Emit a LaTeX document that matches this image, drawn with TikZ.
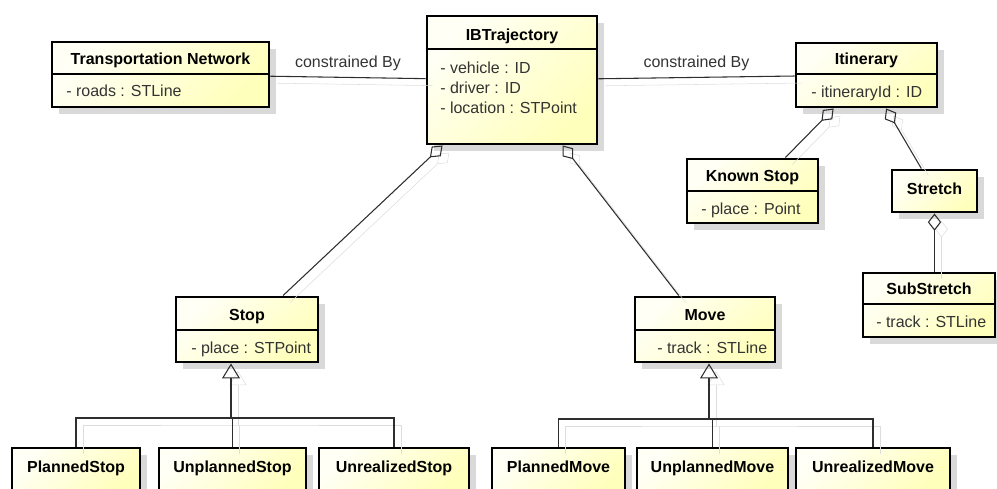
\documentclass[tikz,border=0pt]{standalone}
\usepackage{fontspec}
\setmainfont{Liberation Sans}
\usetikzlibrary{arrows.meta,shadows,fit}
\definecolor{clsyellow}{HTML}{FFFFBC}
\definecolor{clswhite}{HTML}{FFFFF6}
\definecolor{boxshadow}{HTML}{D9D9D9}
\definecolor{lineshadow}{HTML}{DDDDDD}
\definecolor{linegray}{HTML}{2E2E2E}
\definecolor{textgray}{HTML}{333333}
\newcommand\umlfont{\fontsize{12pt}{14pt}\selectfont}
\tikzset{
  cls/.style={draw=black, line width=2.2pt, inner sep=0pt,
    top color=clswhite, bottom color=clsyellow, shading angle=45,
    drop shadow={shadow xshift=5.25pt, shadow yshift=-5.25pt, fill=boxshadow, opacity=1}},
  ttl/.style={font=\umlfont\bfseries, text=black, inner sep=0pt, text height=8.6pt, text depth=0pt},
  att/.style={font=\umlfont, text=textgray, anchor=west, inner sep=0pt, text height=8.6pt, text depth=0pt},
  lbl/.style={font=\umlfont, text=textgray, inner sep=0pt, text height=8.6pt, text depth=0pt},
  divider/.style={draw=black, line width=0.8pt},
  conn/.style={draw=linegray, line width=0.8pt,
    preaction={draw=lineshadow, transform canvas={shift={(7,7)}}}},
  agg/.style={{Diamond[open, length=13pt, width=10pt]}-},
  gen/.style={-{Triangle[open, length=11.25pt, width=13.5pt]}}
}
\begin{document}
\begin{tikzpicture}[x=0.75pt, y=-0.75pt, font=\umlfont]
\useasboundingbox (0,0) rectangle (997,489);

% classes of the top row
\node[cls, fit={(52,42) (269,107)}] (tn) {};
\node[ttl] (tn-t) at (tn.center |- 0,59) {Transportation Network};
\draw[divider] (tn.west |- 0,74) -- (tn.east |- 0,74);
\node[att] (tn-a) at (66,91) {- roads : STLine};

\node[cls, fit={(427,16) (597,144)}] (ibt) {};
\node[ttl] (ibt-t) at (ibt.center |- 0,35) {IBTrajectory};
\draw[divider] (ibt.west |- 0,49) -- (ibt.east |- 0,49);
\node[att] (ibt-a1) at (440,68) {- vehicle : ID};
\node[att] (ibt-a2) at (440,88) {- driver : ID};
\node[att] (ibt-a3) at (440,108) {- location : STPoint};

\node[cls, fit={(796,43) (937,107)}] (itin) {};
\node[ttl] (itin-t) at (itin.center |- 0,59) {Itinerary};
\draw[divider] (itin.west |- 0,74) -- (itin.east |- 0,74);
\node[att] (itin-a) at (811,92) {- itineraryId : ID};

% parts of the itinerary
\node[cls, fit={(687,159) (818,223)}] (ks) {};
\node[ttl] (ks-t) at (ks.center |- 0,176) {Known Stop};
\draw[divider] (ks.west |- 0,191) -- (ks.east |- 0,191);
\node[att] (ks-a) at (701,209) {- place : Point};

\node[cls, fit={(892,170) (977,212)}] (str) {};
\node[ttl] (str-t) at (str.center |- 0,189) {Stretch};

\node[cls, fit={(863,273) (995,337)}] (sub) {};
\node[ttl] (sub-t) at (sub.center |- 0,289) {SubStretch};
\draw[divider] (sub.west |- 0,304) -- (sub.east |- 0,304);
\node[att] (sub-a) at (876,322) {- track : STLine};

% stop and move
\node[cls, fit={(176,297) (318,362)}] (stop) {};
\node[ttl] (stop-t) at (stop.center |- 0,315) {Stop};
\draw[divider] (stop.west |- 0,330) -- (stop.east |- 0,330);
\node[att] (stop-a) at (191,348) {- place : STPoint};

\node[cls, fit={(635,297) (775,362)}] (move) {};
\node[ttl] (move-t) at (move.center |- 0,315) {Move};
\draw[divider] (move.west |- 0,330) -- (move.east |- 0,330);
\node[att] (move-a) at (657,348) {- track : STLine};

% subclasses
\foreach \n/\t/\a/\b in {ps/PlannedStop/12/140, ups/UnplannedStop/159/306, rs/UnrealizedStop/319/469,
    pm/PlannedMove/492/625, upm/UnplannedMove/637/788, rm/UnrealizedMove/796/950}{
  \node[cls, fit={(\a,448) (\b,492)}] (\n) {};
  \node[ttl] (\n-t) at ({(\a+\b)/2},467) {\t};
}

% associations
\draw[conn] (tn) -- node[lbl, above=7pt] (cb1) {constrained By} (ibt);
\draw[conn] (ibt) -- node[lbl, above=7pt] (cb2) {constrained By} (itin);

% aggregations
\draw[conn, agg] (ibt) -- (stop);
\draw[conn, agg] (ibt) -- (move);
\draw[conn, agg] (itin) -- (ks);
\draw[conn, agg] (itin) -- (str);
\draw[conn, agg] (str.south) -- (str.south |- sub.north);

% generalizations
\coordinate (sbus) at (231,418);
\coordinate (mbus) at (709,419);
\draw[conn, gen] (sbus) -- (sbus |- stop.south);
\draw[conn] (ps.north) |- (sbus) -| (rs.north);
\draw[conn] (ups.north) -- (ups.north |- sbus);
\draw[conn, gen] (mbus) -- (mbus |- move.south);
\draw[conn] (pm.north) |- (mbus) -| (rm.north);
\draw[conn] (upm.north) -- (upm.north |- mbus);
\end{tikzpicture}
\end{document}
